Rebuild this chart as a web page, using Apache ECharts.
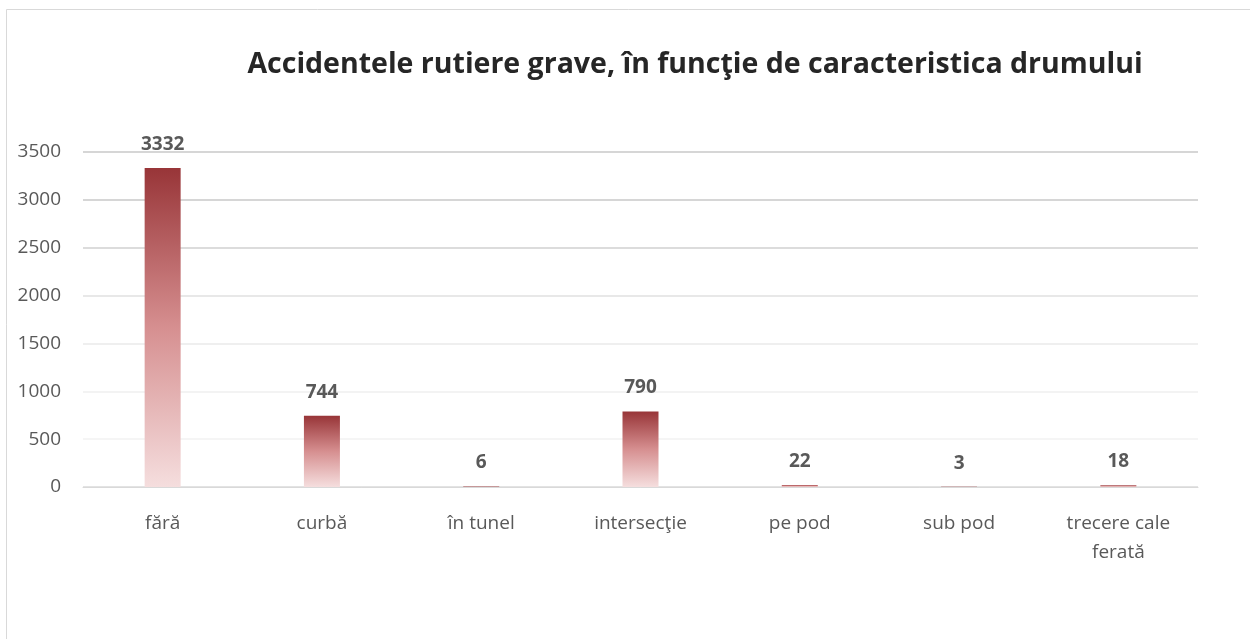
<!DOCTYPE html>
<html>
<head>
<meta charset="utf-8">
<script src="https://cdn.jsdelivr.net/npm/echarts@6/dist/echarts.min.js"></script>
<style>
  html, body { margin: 0; padding: 0; background: #fff; }
  #chart-wrap { width: 1250px; height: 639px; }
</style>
</head>
<body>
<div id="chart-wrap"></div>
<script>
var categories = ['fără', 'curbă', 'în tunel', 'intersecţie', 'pe pod', 'sub pod', 'trecere cale\nferată'];
var values = [3332, 744, 6, 790, 22, 3, 18];
var yTicks = [0, 500, 1000, 1500, 2000, 2500, 3000, 3500];
// gridline shades, bottom to top (lighter near zero, like the source)
var gridColors = ['#dadada', '#f2f2f2', '#efefef', '#eaeaea', '#e0e0e0', '#d0d0d0', '#c8c8c8', '#c8c8c8'];

var myChart = echarts.init(document.getElementById('chart-wrap'));
var font = '"Open Sans", "Noto Sans", sans-serif';

var option = {
  backgroundColor: '#fff',
  textStyle: { fontFamily: font },
  animation: false,
  title: {
    text: 'Accidentele rutiere grave, în funcţie de caracteristica drumului',
    left: 690,
    textAlign: 'center',
    top: 45,
    textStyle: { fontSize: 28.5, fontWeight: 'bold', color: '#262626', fontFamily: font }
  },
  graphic: [{
    type: 'rect',
    shape: { x: 6.5, y: 9.5, width: 1400, height: 800 },
    style: { fill: 'none', stroke: '#d9d9d9', lineWidth: 1 },
    silent: true,
    z: -1
  }],
  grid: { left: 83, right: 52, top: 152, bottom: 152 },
  xAxis: {
    type: 'category',
    data: categories,
    axisTick: { show: false },
    axisLine: { lineStyle: { color: '#d9d9d9', width: 1 } },
    axisLabel: { color: '#595959', fontSize: 19, margin: 22, lineHeight: 29, fontFamily: font }
  },
  yAxis: {
    type: 'value',
    min: yTicks[0],
    max: yTicks[yTicks.length - 1],
    interval: 500,
    axisLine: { show: false },
    axisTick: { show: false },
    axisLabel: {
      color: '#595959', fontSize: 19, margin: 22, fontFamily: font,
      formatter: function (v) { return String(v); }
    },
    splitLine: { lineStyle: { color: gridColors, width: 1.5 } }
  },
  series: [{
    type: 'bar',
    data: values,
    barWidth: 36,
    itemStyle: {
      color: new echarts.graphic.LinearGradient(0, 0, 0, 1, [
        { offset: 0, color: '#983538' },
        { offset: 0.5, color: '#d68f90' },
        { offset: 1, color: '#f5dede' }
      ])
    },
    label: {
      show: true,
      position: 'top',
      distance: 14,
      color: '#595959',
      fontSize: 19,
      fontWeight: 'bold',
      fontFamily: font
    }
  }]
};
myChart.setOption(option);
</script>
</body>
</html>
